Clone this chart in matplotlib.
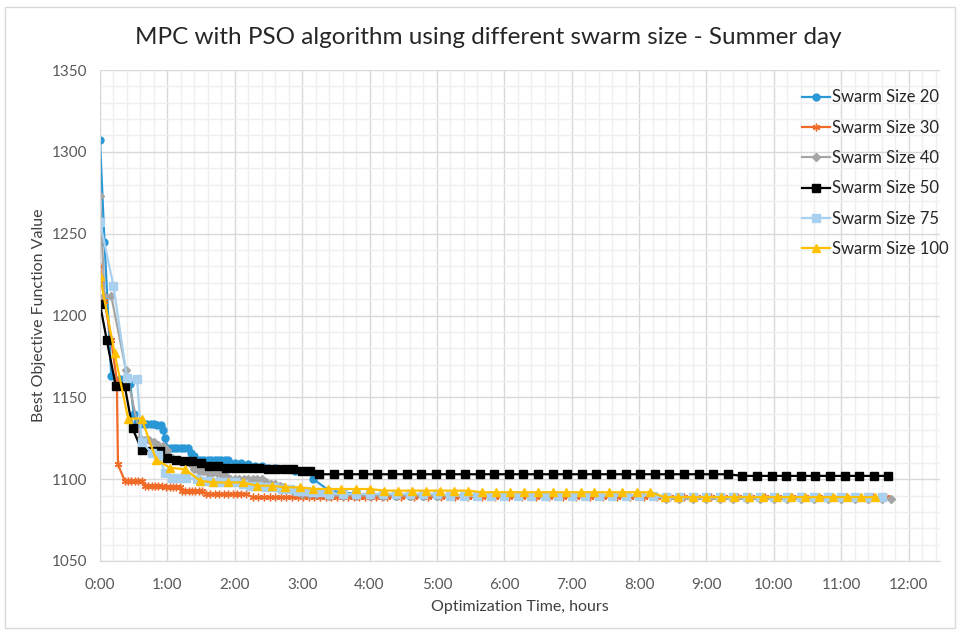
import matplotlib
matplotlib.use('Agg')
import matplotlib.pyplot as plt
from matplotlib.patches import Rectangle
from matplotlib.ticker import MultipleLocator, FuncFormatter

plt.rcParams['font.family'] = ['Lato', 'DejaVu Sans']

# optimisation time in minutes, best objective value at that time
t20 = [0, 4, 10, 18, 27, 30, 33, 36, 39, 42, 45, 48, 51, 54, 56, 58, 60, 63, 66, 69,
       72, 75, 78, 81, 84, 87, 90, 93, 96, 99, 102, 105, 108, 111, 114, 120, 126, 132,
       138, 144, 150, 156, 162, 168, 174, 180, 186, 190, 204, 216, 228, 240, 252, 264,
       276, 288, 300, 312, 324, 336, 348, 360, 372, 384, 396, 408, 420, 432, 444, 456,
       468, 480, 492, 504, 516, 528, 540, 552, 564, 576, 588, 600, 612, 624, 636, 648,
       660, 672, 684, 696]
v20 = [1307, 1245, 1163, 1161, 1158, 1140, 1135, 1134, 1134, 1134, 1134, 1134, 1133, 1133,
       1130, 1125, 1119, 1119, 1119, 1119, 1119, 1119, 1119, 1116, 1114, 1112, 1112, 1112,
       1112, 1112, 1112, 1112, 1112, 1112, 1112, 1110, 1110, 1109, 1108, 1108, 1107, 1107,
       1106, 1106, 1105, 1105, 1105, 1100, 1093, 1092, 1091, 1090, 1090, 1090, 1090, 1090,
       1090, 1090, 1090, 1090, 1090, 1090, 1090, 1090, 1090, 1090, 1090, 1090, 1090, 1090,
       1090, 1090, 1090, 1089, 1089, 1089, 1089, 1089, 1089, 1089, 1089, 1089, 1089, 1089,
       1089, 1089, 1089, 1089, 1089, 1089]

t30 = [0, 4, 10, 15, 16, 22, 25, 28, 31, 34, 37, 40, 43, 46, 49, 52, 55, 59, 62, 65, 68,
       71, 73, 76, 79, 82, 85, 88, 91, 94, 98, 102, 106, 110, 114, 118, 122, 126, 130,
       136, 141, 146, 151, 156, 161, 166, 171, 176, 181, 186, 191, 196, 201, 206, 211,
       216, 221, 226, 231, 236, 241, 246, 251, 256, 268, 280, 292, 304, 316, 328, 340,
       352, 364, 376, 388, 400, 412, 424, 436, 448, 460, 472, 484, 496, 508, 520, 532,
       544, 556, 568, 580, 592, 604, 616, 628, 640, 652, 664, 676, 688, 700]
v30 = [1230, 1209, 1185, 1160, 1109, 1099, 1099, 1099, 1099, 1099, 1099, 1096, 1096, 1096,
       1096, 1096, 1096, 1095, 1095, 1095, 1095, 1095, 1093, 1093, 1093, 1093, 1093, 1093,
       1093, 1091, 1091, 1091, 1091, 1091, 1091, 1091, 1091, 1091, 1091, 1089, 1089, 1089,
       1089, 1089, 1089, 1089, 1089, 1089, 1089, 1089, 1089, 1089, 1089, 1089, 1089, 1089,
       1089, 1089, 1089, 1089, 1089, 1089, 1089, 1089, 1089, 1089, 1089, 1089, 1089, 1089,
       1089, 1089, 1089, 1089, 1089, 1089, 1089, 1089, 1089, 1089, 1089, 1089, 1089, 1089,
       1089, 1089, 1089, 1089, 1089, 1089, 1089, 1089, 1089, 1089, 1089, 1089, 1089, 1089,
       1089, 1089, 1089]

t40 = [0, 4, 10, 23, 36, 40, 44, 48, 52, 56, 60, 64, 68, 72, 76, 80, 84, 88, 92, 96, 100,
       104, 108, 112, 116, 120, 124, 128, 132, 136, 140, 144, 148, 152, 156, 160, 164,
       168, 172, 176, 180, 186, 192, 204, 216, 228, 240, 252, 264, 276, 288, 300, 312,
       324, 336, 348, 360, 372, 384, 396, 408, 420, 432, 444, 456, 468, 480, 492, 504,
       516, 528, 540, 552, 564, 576, 588, 600, 612, 624, 636, 648, 660, 672, 684, 696, 704]
v40 = [1273, 1212, 1212, 1167, 1125, 1124, 1124, 1123, 1121, 1120, 1118, 1113, 1112, 1111,
       1111, 1110, 1106, 1105, 1105, 1104, 1104, 1104, 1103, 1102, 1100, 1100, 1100, 1100,
       1100, 1100, 1100, 1100, 1098, 1097, 1097, 1096, 1095, 1094, 1093, 1092, 1091, 1091,
       1091, 1090, 1090, 1090, 1090, 1090, 1090, 1090, 1090, 1090, 1090, 1090, 1090, 1090,
       1090, 1090, 1090, 1090, 1090, 1090, 1090, 1090, 1090, 1090, 1090, 1090, 1088, 1088,
       1088, 1088, 1088, 1088, 1088, 1088, 1088, 1088, 1088, 1088, 1088, 1088, 1088, 1088,
       1088, 1088]

t50 = [0, 6, 14, 22, 29, 37, 46, 53, 60, 68, 75, 82, 90, 97, 105, 112, 120, 127, 135, 142,
       150, 157, 165, 172, 180, 187, 195, 208, 221, 234, 247, 260, 273, 286, 299, 312,
       325, 338, 351, 364, 377, 390, 403, 416, 429, 442, 455, 468, 481, 494, 507, 520,
       533, 546, 559, 572, 585, 598, 611, 624, 637, 650, 663, 676, 689, 702]
v50 = [1207, 1185, 1157, 1157, 1131, 1118, 1117, 1117, 1113, 1112, 1111, 1111, 1110, 1108,
       1108, 1107, 1107, 1107, 1107, 1107, 1106, 1106, 1106, 1106, 1105, 1105, 1103, 1103,
       1103, 1103, 1103, 1103, 1103, 1103, 1103, 1103, 1103, 1103, 1103, 1103, 1103, 1103,
       1103, 1103, 1103, 1103, 1103, 1103, 1103, 1103, 1103, 1103, 1103, 1103, 1103, 1102,
       1102, 1102, 1102, 1102, 1102, 1102, 1102, 1102, 1102, 1102]

t75 = [0, 12, 24, 33, 37, 46, 52, 58, 64, 70, 77, 86, 90, 96, 102, 108, 114, 120, 127, 134,
       141, 148, 155, 162, 169, 176, 183, 190, 197, 204, 216, 228, 240, 252, 264, 276,
       288, 300, 312, 324, 336, 348, 360, 372, 384, 396, 408, 420, 432, 444, 456, 468,
       480, 492, 504, 516, 528, 540, 552, 564, 576, 588, 600, 612, 624, 636, 648, 660,
       672, 684, 696]
v75 = [1257, 1218, 1162, 1161, 1123, 1116, 1115, 1104, 1101, 1101, 1101, 1100, 1099, 1099,
       1098, 1098, 1098, 1098, 1097, 1096, 1096, 1095, 1095, 1094, 1094, 1093, 1093, 1092,
       1092, 1091, 1091, 1091, 1091, 1091, 1091, 1091, 1091, 1091, 1090, 1090, 1090, 1090,
       1090, 1090, 1090, 1090, 1090, 1090, 1090, 1090, 1090, 1090, 1090, 1090, 1089, 1089,
       1089, 1089, 1089, 1089, 1089, 1089, 1089, 1089, 1089, 1089, 1089, 1089, 1089, 1089,
       1089]

t100 = [0, 13, 25, 37, 50, 62, 76, 89, 101, 114, 127, 140, 153, 165, 178, 190, 203, 215,
        228, 240, 253, 265, 278, 290, 303, 315, 328, 340, 353, 365, 378, 390, 403, 415,
        428, 440, 453, 465, 478, 490, 503, 515, 528, 540, 553, 565, 578, 590, 603, 615,
        628, 640, 653, 665, 678, 690]
v100 = [1224, 1177, 1137, 1137, 1112, 1107, 1106, 1099, 1098, 1098, 1098, 1096, 1096, 1095,
        1095, 1094, 1094, 1094, 1094, 1094, 1093, 1093, 1093, 1093, 1093, 1093, 1093, 1092,
        1092, 1092, 1092, 1092, 1092, 1092, 1092, 1092, 1092, 1092, 1092, 1092, 1089, 1089,
        1089, 1089, 1089, 1089, 1089, 1089, 1089, 1089, 1089, 1089, 1089, 1089, 1089, 1089]

SERIES = [
    ('Swarm Size 20',  t20,  v20,  dict(color='#2a98d6', marker='o', ms=5)),
    ('Swarm Size 30',  t30,  v30,  dict(color='#f06a28', marker=(6, 2, 0), ms=5.5, mew=1.0)),
    ('Swarm Size 40',  t40,  v40,  dict(color='#a5a5a5', marker='D', ms=3.6)),
    ('Swarm Size 50',  t50,  v50,  dict(color='#000000', marker='s', ms=6)),
    ('Swarm Size 75',  t75,  v75,  dict(color='#a9d1ef', marker='s', ms=5.5)),
    ('Swarm Size 100', t100, v100, dict(color='#ffc000', marker='^', ms=6)),
]

fig = plt.figure(figsize=(9.61, 6.34), dpi=100)
fig.patches.append(Rectangle((5 / 961, 1 - 628 / 634), 950 / 961, 621 / 634,
                             transform=fig.transFigure, fill=False,
                             edgecolor='#d9d9d9', linewidth=1.0))
ax = fig.add_axes([100 / 961, 1 - 561 / 634, 840 / 961, 491 / 634])

for label, t, v, style in SERIES:
    ax.plot(t, v, linewidth=1.6, label=label, **style)

ax.set_xlim(0, 748)
ax.set_ylim(1050, 1350)
ax.xaxis.set_major_locator(MultipleLocator(60))
ax.xaxis.set_minor_locator(MultipleLocator(12))
ax.yaxis.set_major_locator(MultipleLocator(50))
ax.yaxis.set_minor_locator(MultipleLocator(10))
ax.xaxis.set_major_formatter(FuncFormatter(lambda x, _: f'{int(round(x / 60))}:00'))
ax.grid(True, which='major', color='#d9d9d9', linewidth=1.0)
ax.grid(True, which='minor', color='#efefef', linewidth=1.0)
ax.set_axisbelow(True)
for s in ['top', 'right']:
    ax.spines[s].set_visible(False)
for s in ['left', 'bottom']:
    ax.spines[s].set_color('#d9d9d9')
ax.tick_params(which='both', length=0, labelsize=11, colors='#595959')
ax.tick_params(axis='x', pad=12)
ax.tick_params(axis='y', pad=9)

ax.set_xlabel('Optimization Time, hours', fontsize=11.5, color='#404040', labelpad=6)
ax.set_ylabel('Best Objective Function Value', fontsize=11.5, color='#404040', labelpad=4)
fig.text(0.508, 1 - 38 / 634, 'MPC with PSO algorithm using different swarm size - Summer day',
         ha='center', va='center', fontsize=17.5, color='#262626')

ax.legend(loc='upper left', bbox_to_anchor=(794 / 961, 1 - 81 / 634),
          bbox_transform=fig.transFigure, frameon=False, fontsize=12,
          handlelength=1.65, handletextpad=0.15, labelspacing=0.86, borderpad=0,
          labelcolor='#262626')

fig.savefig('out.png', dpi=100)
